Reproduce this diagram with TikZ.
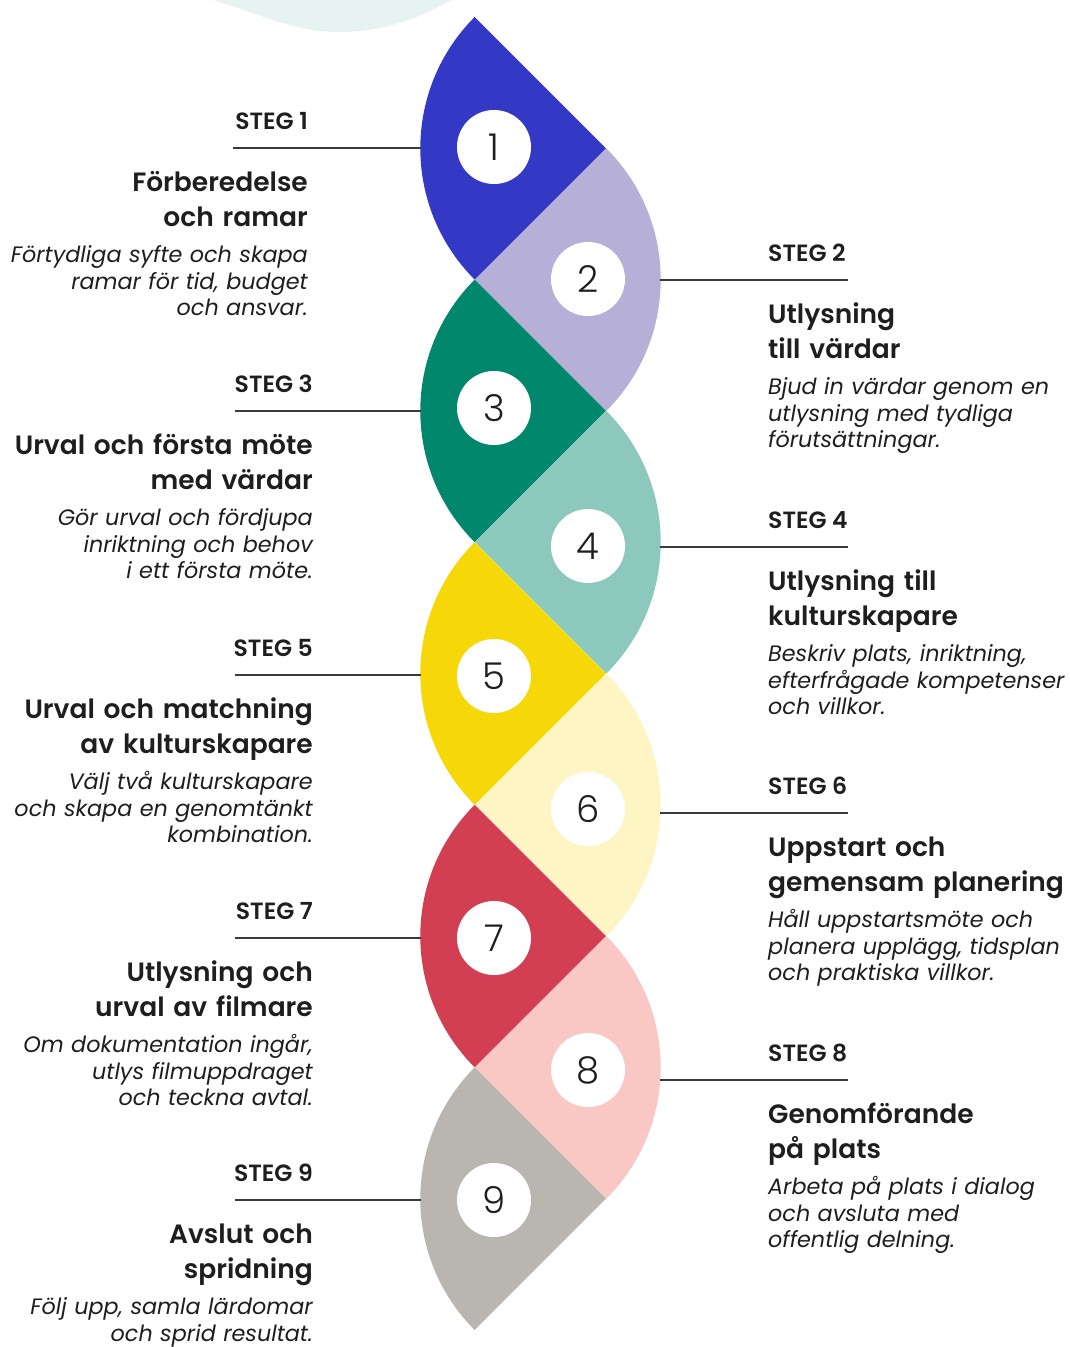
\documentclass[tikz,border=0pt]{standalone}
\usepackage{fontspec}
\setmainfont{Poppins}
\IfFontExistsTF{Poppins SemiBold}{\newfontfamily\semib{Poppins SemiBold}}{\newcommand\semib{\bfseries}}
\IfFontExistsTF{Poppins Light}{\newfontfamily\lightf{Poppins Light}}{\newcommand\lightf{}}
\definecolor{cA}{HTML}{3339C4}
\definecolor{cB}{HTML}{B6AFD8}
\definecolor{cC}{HTML}{00876C}
\definecolor{cD}{HTML}{8CC8BB}
\definecolor{cE}{HTML}{F6D809}
\definecolor{cF}{HTML}{FDF5C3}
\definecolor{cG}{HTML}{D33F52}
\definecolor{cH}{HTML}{F9C8C4}
\definecolor{cI}{HTML}{B9B6B1}
\definecolor{mint}{HTML}{E6F3F0}
\definecolor{ink}{HTML}{1E1E1E}
\definecolor{rulec}{HTML}{3A3A3A}
\tikzset{
  rule/.style={draw=rulec, line width=1.4pt},
  lab/.style={inner sep=0pt, text=ink, font=\semib\fontsize{23.5}{27}\selectfont},
  ttl/.style={inner sep=0pt, text=ink, text width=360pt, font=\semib\fontsize{26.5}{35}\selectfont},
  dsc/.style={inner sep=0pt, text=ink, text width=360pt, font=\itshape\fontsize{22.3}{26.7}\selectfont},
  numc/.style={circle, fill=white, minimum size=74pt, inner sep=0pt, text=ink, font=\lightf\fontsize{37}{37}\selectfont},
}
\newcommand\sectorL[2]{\fill[#2] (606,17+131.3*#1) -- ++(135:185.7) arc[start angle=135, end angle=225, radius=185.7] -- cycle;}
\newcommand\sectorR[2]{\fill[#2] (475,17+131.3*#1) -- ++(-45:185.7) arc[start angle=-45, end angle=45, radius=185.7] -- cycle;}
% #1 step, #2 line y, #3 right edge, #4 line start, #5 title, #6 description
\newcommand\stepL[6]{%
  \coordinate (a#1) at (#4,#2);
  \coordinate (b#1) at (421,#2);
  \draw[rule] (a#1) -- (b#1);
  \node[lab, anchor=base east] (lab#1) at (#3,#2-18.5) {STEG #1};
  \node[ttl, align=right, anchor=base east] (ttl#1) at (#3,#2+43) {#5};
  \node[dsc, align=right, anchor=base east] (dsc#1) at (#3,#2+114.5) {#6};
}
\newcommand\stepR[4]{%
  \coordinate (a#1) at (660,#2);
  \coordinate (b#1) at (848,#2);
  \draw[rule] (a#1) -- (b#1);
  \node[lab, anchor=base west] (lab#1) at (768,#2-18.5) {STEG #1};
  \node[ttl, align=left, anchor=base west] (ttl#1) at (768,#2+43) {#3};
  \node[dsc, align=left, anchor=base west] (dsc#1) at (768,#2+114.5) {#4};
}
\begin{document}
\begin{tikzpicture}[x=1pt, y=-1pt]
\path[use as bounding box, fill=white] (0,0) rectangle (1070,1347);
% decorative blob at top
\fill[mint] (213,0) .. controls (265,16) and (295,32) .. (340,32) .. controls (390,32) and (425,14) .. (452,0) -- cycle;
% helix sectors
\sectorL{1}{cA}
\sectorR{2}{cB}
\sectorL{3}{cC}
\sectorR{4}{cD}
\sectorL{5}{cE}
\sectorR{6}{cF}
\sectorL{7}{cG}
\sectorR{8}{cH}
\sectorL{9}{cI}
% number circles
\node[numc] (n1) at (494,147) {1};
\node[numc] (n2) at (588,279) {2};
\node[numc] (n3) at (494,408) {3};
\node[numc] (n4) at (588,546) {4};
\node[numc] (n5) at (494,676) {5};
\node[numc] (n6) at (588,809) {6};
\node[numc] (n7) at (494,938) {7};
\node[numc] (n8) at (588,1070) {8};
\node[numc] (n9) at (494,1200) {9};
% texts
\stepL{1}{148}{308}{233}{Förberedelse\\och ramar}{Förtydliga syfte och skapa\\ramar för tid, budget\\och ansvar.}
\stepR{2}{280}{Utlysning\\till värdar}{Bjud in värdar genom en\\utlysning med tydliga\\förutsättningar.}
\stepL{3}{411}{313}{235}{Urval och första möte\\med värdar}{Gör urval och fördjupa\\inriktning och behov\\i ett första möte.}
\stepR{4}{547}{Utlysning till\\kulturskapare}{Beskriv plats, inriktning,\\efterfrågade kompetenser\\och villkor.}
\stepL{5}{675}{313}{235}{Urval och matchning\\av kulturskapare}{Välj två kulturskapare\\och skapa en genomtänkt\\kombination.}
\stepR{6}{813}{Uppstart och\\gemensam planering}{Håll uppstartsmöte och\\planera upplägg, tidsplan\\och praktiska villkor.}
\stepL{7}{938}{313}{235}{Utlysning och\\urval av filmare}{Om dokumentation ingår,\\utlys filmuppdraget\\och teckna avtal.}
\stepR{8}{1080}{Genomförande\\på plats}{Arbeta på plats i dialog\\och avsluta med\\offentlig delning.}
\stepL{9}{1200}{313}{235}{Avslut och\\spridning}{Följ upp, samla lärdomar\\och sprid resultat.}
\end{tikzpicture}
\end{document}
